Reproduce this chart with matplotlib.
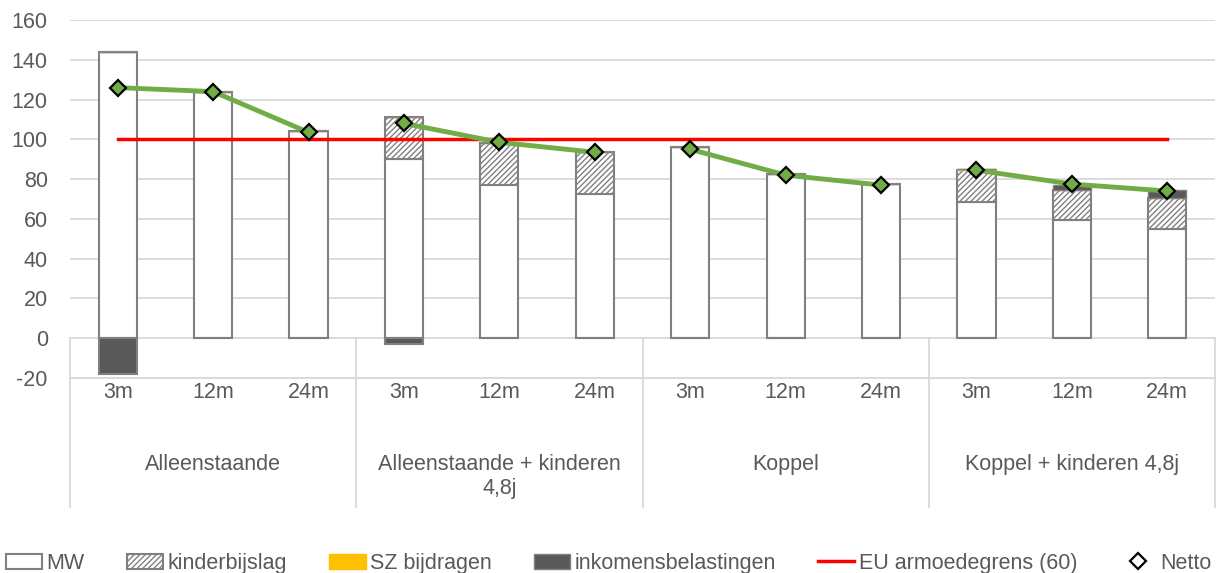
import matplotlib
matplotlib.use("Agg")
import matplotlib.pyplot as plt
from matplotlib.patches import Patch
from matplotlib.lines import Line2D
import numpy as np

groups = ["Alleenstaande", "Alleenstaande + kinderen\n4,8j", "Koppel", "Koppel + kinderen 4,8j"]
periods = ["3m", "12m", "24m"]

mw = [144, 124, 104, 90, 77, 72.3, 96, 82.5, 77.5, 68.5, 59.5, 55]
kinderbijslag = [0, 0, 0, 21, 21, 21.3, 0, 0, 0, 16, 15, 15.5]
sz_bijdragen = [0, 0, 0, 0, 0, 0, 0, 0, 0, 0.6, 0, 0]
belastingen = [-18, 0, 0, -3, 0, 0, 0, 0, 0, 0, 2.5, 4]
netto = [126, 124, 103.5, 108, 98.5, 93.5, 95, 82, 77, 84.5, 77.5, 74]
armoedegrens = 100

TXT = "#595959"
FS = 15.5
plt.rcParams['font.family'] = ['Liberation Sans', 'DejaVu Sans']
plt.rcParams['hatch.linewidth'] = 1.0

fig = plt.figure(figsize=(12.17, 5.73), dpi=100)
ax = fig.add_axes([70/1217, 1-378/573, (1215-70)/1217, (378-20)/573])

n = len(mw)
x = np.arange(n)
w = 0.4
mw_a = np.array(mw, float)
kb_a = np.array(kinderbijslag, float)
sz_a = np.array(sz_bijdragen, float)
tx_a = np.array(belastingen, float)

ax.bar(x, mw_a, w, color="white", edgecolor="#808080", linewidth=1.5, zorder=3)
ax.bar(x, kb_a, w, bottom=mw_a, color="white", edgecolor="#808080", hatch="//////",
       linewidth=1.5, zorder=3)
ax.bar(x, sz_a, w, bottom=mw_a + kb_a, color="#FFC000", edgecolor="#C9A86A", linewidth=1.0, zorder=3)
pos_tax = np.where(tx_a > 0, tx_a, 0)
neg_tax = np.where(tx_a < 0, tx_a, 0)
ax.bar(x, pos_tax, w, bottom=mw_a + kb_a + sz_a, color="#595959", edgecolor="#808080",
       linewidth=1.0, zorder=3)
ax.bar(x, neg_tax, w, color="#595959", edgecolor="#808080", linewidth=1.5, zorder=3)

ax.plot([x[0], x[-1]], [armoedegrens, armoedegrens], color="#FF0000", lw=2.5, zorder=4)

for g in range(4):
    xs = x[g*3:(g+1)*3]
    ys = netto[g*3:(g+1)*3]
    ax.plot(xs, ys, color="#70AD47", lw=3.5, zorder=5, solid_capstyle='round')
    ax.plot(xs, ys, ls='none', marker='D', markersize=8, markerfacecolor="#70AD47",
            markeredgecolor="black", markeredgewidth=1.6, zorder=6)

ax.set_xlim(-0.5, n - 0.5)
ax.set_ylim(-20, 160)
ax.set_yticks(np.arange(-20, 161, 20))
ax.set_yticklabels([str(v) for v in range(-20, 161, 20)], color=TXT, fontsize=FS)
ax.tick_params(axis='y', length=0, pad=16)
ax.set_xticks([])
for s in ax.spines.values():
    s.set_visible(False)
ax.grid(axis='y', color="#D9D9D9", lw=1.3, zorder=0)
ax.set_axisbelow(True)

# category axis
ax.plot([-0.5, n - 0.5], [-20, -20], color="#D9D9D9", lw=1.3, clip_on=False, zorder=1)
for xv in [-0.5, 2.5, 5.5, 8.5, n - 0.5]:
    ax.plot([xv, xv], [0, -85], color="#D9D9D9", lw=1.3, clip_on=False, zorder=1)
for i in range(n):
    ax.text(x[i], -27.5, periods[i % 3], ha='center', va='center', color=TXT,
            fontsize=FS, clip_on=False)
for g in range(4):
    ax.text(3*g + 1, -58.0, groups[g], ha='center', va='top', color=TXT,
            fontsize=FS, linespacing=1.2, clip_on=False)

handles = [
    Patch(facecolor="white", edgecolor="#808080", linewidth=1.5),
    Patch(facecolor="white", edgecolor="#808080", hatch="//////", linewidth=1.5),
    Patch(facecolor="#FFC000", edgecolor="#FFC000"),
    Patch(facecolor="#595959", edgecolor="#808080"),
    Line2D([0], [0], color="#FF0000", lw=2.5),
    Line2D([0], [0], ls='none', marker='D', markersize=8, markerfacecolor="white",
           markeredgecolor="black", markeredgewidth=1.6),
]
labels = ["MW", "kinderbijslag", "SZ bijdragen", "inkomensbelastingen",
          "EU armoedegrens (60)", "Netto"]
fig.legend(handles, labels, loc='lower center', bbox_to_anchor=(0.5, -0.035), ncol=6,
           frameon=False, fontsize=FS, labelcolor=TXT, handlelength=1.7,
           handletextpad=0.2, columnspacing=1.95)

fig.savefig("out.png", dpi=100)
